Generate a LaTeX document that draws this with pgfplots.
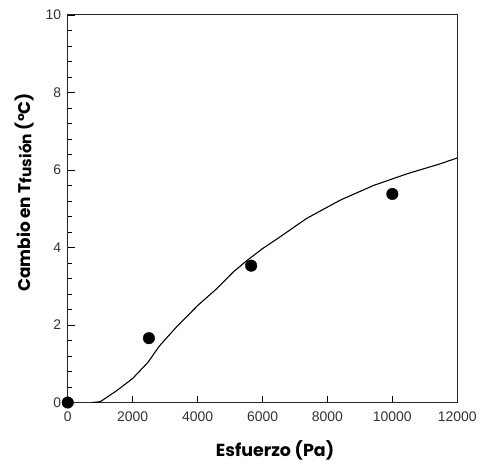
\documentclass[border=0pt]{standalone}
\usepackage{pgfplots}
\pgfplotsset{compat=1.18}
\usepackage{fontspec}
\setmainfont{Liberation Sans}
\newfontfamily\labfont{Poppins}
\begin{document}
\begin{tikzpicture}
\begin{axis}[
  scale only axis, width=391pt, height=389pt,
  xmin=0, xmax=12000, ymin=0, ymax=10,
  xtick={0,2000,...,12000}, ytick={0,2,...,10},
  minor y tick num=4,
  xtick pos=bottom, ytick pos=left,
  tick align=inside,
  major tick length=7pt, minor tick length=4pt,
  axis line style={black!85, line width=0.9pt},
  every tick/.style={black, line width=0.8pt},
  scaled x ticks=false,
  /pgf/number format/assume math mode=true,
  xticklabel={\pgfmathprintnumber[fixed,precision=0,1000 sep={}]{\tick}},
  tick label style={font=\fontsize{14}{16}\selectfont, text=black!80},
  xticklabel style={yshift=-6pt},
  yticklabel style={xshift=-3pt},
  xlabel={\labfont\bfseries Esfuerzo (Pa)},
  ylabel={\labfont\bfseries Cambio en T\raisebox{-0.1ex}{\fontsize{15.5}{17}\selectfont fusión} (°C)},
  xlabel style={font=\fontsize{17.5}{20}\selectfont, at={(ticklabel cs:0.532)}},
  ylabel style={font=\fontsize{17}{19}\selectfont, at={(ticklabel cs:0.542)}},
  xlabel shift=12pt,
  ylabel shift=5pt,
  clip=false,
]
\addplot[black, line width=1.1pt] coordinates {
(760,0) (1000,0.02) (1500,0.3) (2000,0.62) (2465,1.03) (2825,1.46) (3340,1.94)
(4000,2.5) (4580,2.93) (5090,3.36) (5500,3.65) (6000,3.97) (6500,4.25)
(7360,4.75) (8390,5.22) (9420,5.60) (10450,5.90) (11480,6.16) (12000,6.31)
};
\addplot[only marks, mark=*, mark size=5.8pt, black] coordinates {
(0,0) (2500,1.66) (5650,3.53) (10000,5.38)
};
\end{axis}
\path[use as bounding box] (current axis.south west) ++(-68pt,-62pt) rectangle ([xshift=21pt,yshift=15pt]current axis.north east);
\end{tikzpicture}
\end{document}
